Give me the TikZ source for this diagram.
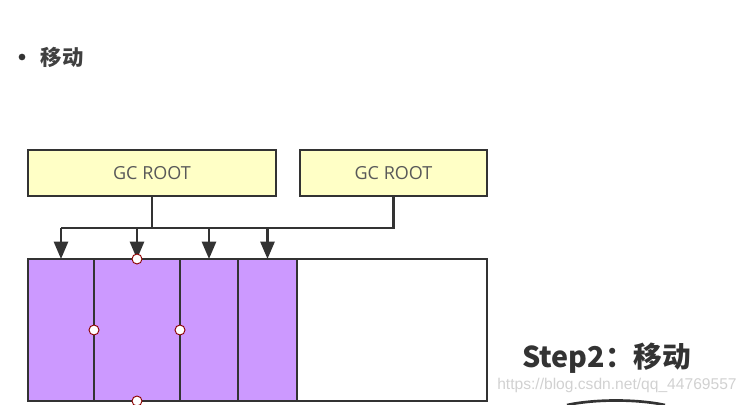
\documentclass[tikz,border=0pt]{standalone}
\usepackage{fontspec}
\setmainfont{Open Sans}
\newfontfamily\cjk{Noto Sans CJK SC}
\newfontfamily\webfont{Liberation Sans}
\usepackage{xcolor}
\usetikzlibrary{positioning, arrows.meta}

\definecolor{rootfill}{HTML}{FFFFC6}
\definecolor{livefill}{HTML}{CC99FF}
\definecolor{edge}{HTML}{333333}

\begin{document}
\begin{tikzpicture}[
    x=0.75pt, y=-0.75pt,
    root/.style={draw=edge, line width=2pt, fill=rootfill, outer sep=0pt,
                 minimum height=34.5pt, font=\fontsize{13.5}{15}\selectfont,
                 text=black!65},
    live/.style={draw=edge, line width=2pt, fill=livefill, outer sep=0pt,
                 minimum height=106.5pt},
    free/.style={live, fill=white},
    wire/.style={edge, line width=2pt},
    arr/.style={wire, -{Triangle[length=13pt, width=10.5pt]}},
    joint/.style={circle, draw=red!55!black, fill=white, line width=0.7pt,
                  inner sep=0pt, minimum size=7.5pt}
  ]
  \useasboundingbox (0,0) rectangle (747,404);

  % heading
  \node[circle, fill=black!80, inner sep=0pt, minimum size=5pt] (dot) at (22,57) {};
  \node[right=8pt of dot, font=\cjk\bfseries\fontsize{16}{18}\selectfont,
        text=black!75] (title) {移动};

  % roots
  \node[root, minimum width=186pt, anchor=north west] (root1) at (28,150) {GC ROOT};
  \node[root, minimum width=140.25pt, right=18pt of root1] (root2) {GC ROOT};

  % heap
  \node[live, minimum width=49.5pt, anchor=north west] (c1) at (28,259) {};
  \node[live, minimum width=64.5pt, right=0pt of c1] (c2) {};
  \node[live, minimum width=43.5pt, right=0pt of c2] (c3) {};
  \node[live, minimum width=44.25pt, right=0pt of c3] (c4) {};
  \node[free, minimum width=142.5pt, right=0pt of c4] (rest) {};

  % references
  \coordinate (bus) at (0,228);
  \draw[wire] (root1.south) -- (root1.south |- bus);
  \draw[wire] (root2.south) |- (c1.north |- bus);
  \foreach \c in {c1,c2,c3,c4}
    \draw[arr] (\c.north |- bus) -- (\c.north);

  \node[joint] (j1) at (c2.north) {};
  \node[joint] (j2) at (c1.east) {};
  \node[joint] (j3) at (c2.east) {};
  \node[joint] (j4) at (c2.south) {};

  % caption
  \node[anchor=west, font=\cjk\bfseries\fontsize{21.5}{24}\selectfont,
        text=black!80, inner sep=0pt] (step) at (522,358) {Step2：移动};
  \node[anchor=west, font=\webfont\fontsize{11.7}{14}\selectfont,
        text=black!18, inner sep=0pt] (mark) at (497,385) {https://blog.csdn.net/qq\_44769557};
  \draw[edge, line width=2pt] (567,405) .. controls (595,399) and (637,399) .. (665,405);
\end{tikzpicture}
\end{document}
